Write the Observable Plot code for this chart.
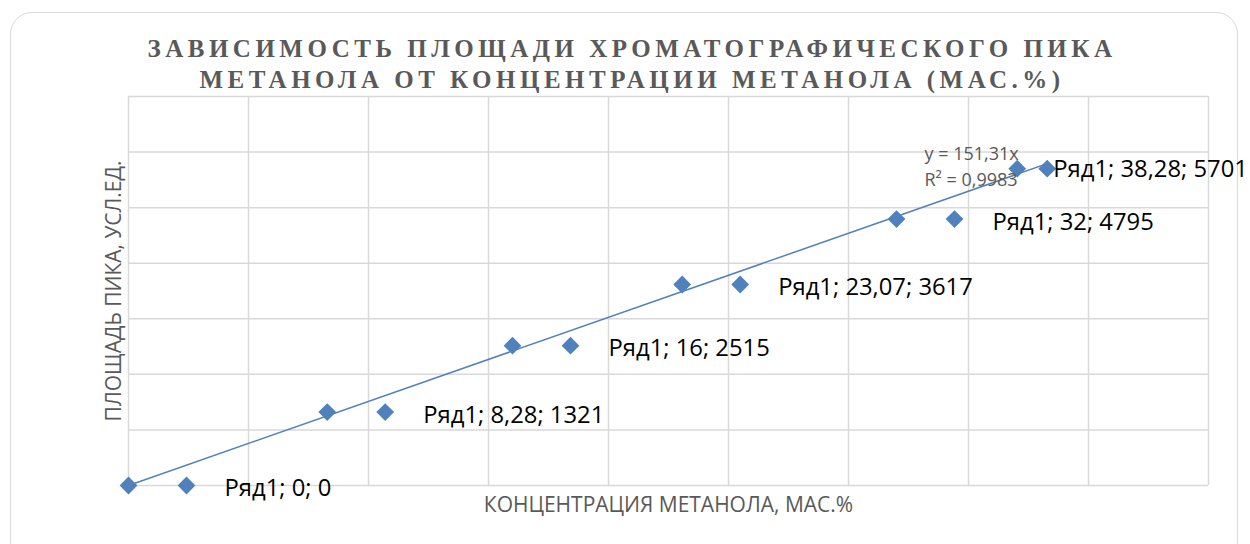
<!DOCTYPE html>
<html><head><meta charset="utf-8">
<script src="https://cdn.jsdelivr.net/npm/d3@7"></script>
<script src="https://cdn.jsdelivr.net/npm/@observablehq/plot@0.6"></script>
<style>
body{margin:0;background:#fff;}
#wrap{position:relative;width:1250px;height:544px;overflow:hidden;}
#frame{position:absolute;left:10px;top:12px;width:1228px;height:560px;border:1.5px solid #d9d9d9;border-radius:22px;box-sizing:border-box;}
#title{position:absolute;left:0;width:1264px;top:33px;text-align:center;font-family:"Liberation Serif","DejaVu Serif",serif;font-weight:bold;font-size:25px;letter-spacing:4.5px;color:#595959;line-height:31px;}
#chart{position:absolute;left:0;top:0;}
</style></head>
<body><div id="wrap"><div id="frame"></div><div id="chart"></div>
<div id="title">ЗАВИСИМОСТЬ ПЛОЩАДИ ХРОМАТОГРАФИЧЕСКОГО ПИКА<br>МЕТАНОЛА ОТ КОНЦЕНТРАЦИИ МЕТАНОЛА (МАС.%)</div></div>
<script>
const concentration = [0, 8.28, 16, 23.07, 32, 38.28];
const peakArea = [0, 1321, 2515, 3617, 4795, 5701];
const labelTexts = ["Ряд1; 0; 0", "Ряд1; 8,28; 1321", "Ряд1; 16; 2515", "Ряд1; 23,07; 3617", "Ряд1; 32; 4795", "Ряд1; 38,28; 5701"];
const trendSlope = 151.31;
const trendTexts = ["y = 151,31x", "R² = 0,9983"];
const xTicks = [0,5,10,15,20,25,30,35,40,45];
const yTicks = [0,1000,2000,3000,4000,5000,6000,7000];

const data = concentration.map((x,i)=>({x, y: peakArea[i], label: labelTexts[i], last: i===concentration.length-1}));
const xMax = d3.max(concentration);
const trend = [{x:0, y:0}, {x:xMax, y:trendSlope*xMax}];
const blue = "#4f81bd";
const font = "'Open Sans', sans-serif";

const chart = Plot.plot({
  width:1250, height:544,
  marginLeft:128, marginRight:42, marginTop:96, marginBottom:59,
  x:{domain:[0,45], ticks:xTicks, axis:null},
  y:{domain:[0,7000], ticks:yTicks, axis:null},
  style:{fontFamily:font, background:"transparent", overflow:"visible"},
  marks:[
    Plot.gridX(xTicks, {stroke:"#d9d9d9", strokeOpacity:1, strokeWidth:1.5}),
    Plot.gridY(yTicks, {stroke:"#d9d9d9", strokeOpacity:1, strokeWidth:1.5}),
    Plot.line(trend, {x:"x", y:"y", stroke:blue, strokeWidth:1.5}),
    Plot.dot(data, {x:"x", y:"y", symbol:"diamond2", r:8, fill:blue}),
    Plot.dot(data.filter(d=>!d.last), {x:"x", y:"y", symbol:"diamond2", r:8, fill:blue, dx:58}),
    Plot.dot(data.filter(d=>d.last), {x:"x", y:"y", symbol:"diamond2", r:8, fill:blue, dx:-30}),
    Plot.text(data.filter(d=>!d.last), {x:"x", y:"y", text:"label", dx:96, dy:3, textAnchor:"start", fontSize:23.8, fill:"#000"}),
    Plot.text(data.filter(d=>d.last), {x:"x", y:"y", text:"label", dx:6, dy:1, textAnchor:"start", fontSize:23.8, fill:"#000"}),
    Plot.text([trendTexts[0]], {frameAnchor:"top-left", text:d=>d, dx:796, dy:51, textAnchor:"start", fontSize:18, fill:"#595959"}),
    Plot.text([trendTexts[1]], {frameAnchor:"top-left", text:d=>d, dx:796, dy:77, textAnchor:"start", fontSize:18, fill:"#595959"}),
    Plot.text(["КОНЦЕНТРАЦИЯ МЕТАНОЛА, МАС.%"], {frameAnchor:"bottom", text:d=>d, dy:26, fontSize:21, fill:"#595959"}),
    Plot.text(["ПЛОЩАДЬ ПИКА, УСЛ.ЕД."], {frameAnchor:"left", text:d=>d, dx:-14, rotate:-90, textAnchor:"middle", fontSize:21, fill:"#595959"})
  ]
});
document.getElementById("chart").appendChild(chart);
</script></body></html>
